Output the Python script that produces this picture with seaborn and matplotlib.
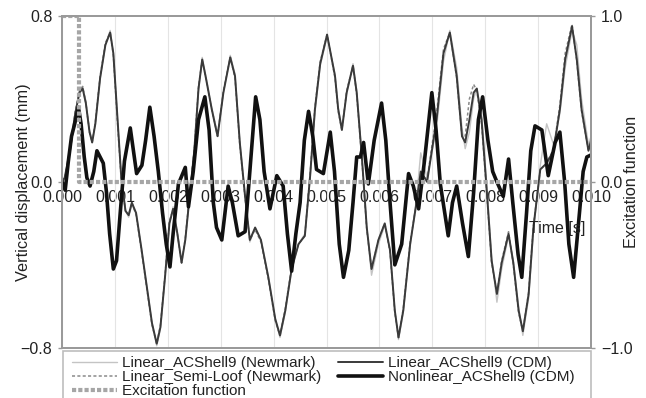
import numpy as np
import pandas as pd
import matplotlib
matplotlib.use('Agg')
import matplotlib.pyplot as plt
import seaborn as sns
from matplotlib.patches import Rectangle

sns.set_theme(style='white')
plt.rcParams['font.family'] = ['Liberation Sans', 'DejaVu Sans']

# time in ms for the linear solutions
t_lin = [0.00, 0.05, 0.15, 0.25, 0.33, 0.39, 0.45, 0.52, 0.57, 0.63, 0.72, 0.82, 0.91, 0.97,
         1.05, 1.12, 1.20, 1.26, 1.32, 1.40, 1.50, 1.60, 1.70, 1.79, 1.86, 1.95, 2.03, 2.10,
         2.18, 2.26, 2.33, 2.42, 2.50, 2.58, 2.65, 2.72, 2.83, 2.94, 3.05, 3.18, 3.27, 3.36,
         3.46, 3.55, 3.65, 3.76, 3.90, 4.03, 4.12, 4.22, 4.34, 4.47, 4.59, 4.69, 4.78, 4.88,
         5.01, 5.16, 5.22, 5.29, 5.38, 5.50, 5.57, 5.67, 5.76, 5.85, 5.98, 6.10, 6.20, 6.29,
         6.36, 6.45, 6.58, 6.70, 6.78, 6.90, 7.08, 7.21, 7.33, 7.46, 7.56, 7.62, 7.70, 7.78,
         7.84, 7.93, 8.03, 8.12, 8.22, 8.31, 8.44, 8.53, 8.63, 8.71, 8.82, 8.91, 9.04, 9.16,
         9.29, 9.41, 9.51, 9.64, 9.73, 9.82, 9.95, 10.00]

lin_newmark = [0.00, 0.02, 0.15, 0.33, 0.43, 0.46, 0.39, 0.25, 0.20, 0.28, 0.50, 0.66, 0.73, 0.62,
               0.30, 0.02, -0.14, -0.17, -0.11, -0.15, -0.32, -0.50, -0.68, -0.79, -0.71, -0.45, -0.20, -0.12,
               -0.24, -0.38, -0.28, -0.05, 0.14, 0.44, 0.60, 0.51, 0.36, 0.23, 0.43, 0.61, 0.52, 0.20,
               -0.06, -0.29, -0.22, -0.28, -0.46, -0.66, -0.75, -0.63, -0.42, -0.30, -0.25, 0.02, 0.33, 0.56,
               0.70, 0.52, 0.36, 0.26, 0.43, 0.57, 0.44, 0.12, -0.22, -0.45, -0.30, -0.21, -0.33, -0.62,
               -0.76, -0.63, -0.31, -0.08, 0.14, 0.02, 0.26, 0.58, 0.73, 0.55, 0.26, 0.16, 0.24, 0.40,
               0.45, 0.33, -0.02, -0.36, -0.58, -0.42, -0.26, -0.38, -0.60, -0.74, -0.56, -0.24, 0.08, 0.28,
               0.18, 0.33, 0.55, 0.73, 0.66, 0.40, 0.18, 0.22]

semi_loof = [0.00, 0.02, 0.16, 0.34, 0.44, 0.46, 0.38, 0.24, 0.19, 0.29, 0.51, 0.67, 0.72, 0.61,
             0.28, 0.01, -0.14, -0.16, -0.10, -0.16, -0.33, -0.51, -0.69, -0.78, -0.69, -0.44, -0.19, -0.13,
             -0.25, -0.39, -0.27, -0.04, 0.16, 0.46, 0.59, 0.50, 0.35, 0.22, 0.44, 0.60, 0.50, 0.18,
             -0.08, -0.28, -0.23, -0.29, -0.47, -0.67, -0.74, -0.61, -0.41, -0.30, -0.26, 0.04, 0.36, 0.58,
             0.71, 0.50, 0.34, 0.25, 0.44, 0.56, 0.42, 0.10, -0.23, -0.42, -0.28, -0.20, -0.34, -0.63,
             -0.75, -0.61, -0.29, -0.10, 0.04, 0.01, 0.33, 0.64, 0.72, 0.50, 0.22, 0.22, 0.40, 0.47,
             0.44, 0.28, -0.06, -0.39, -0.54, -0.38, -0.24, -0.40, -0.63, -0.72, -0.53, -0.21, 0.06, 0.09,
             0.16, 0.37, 0.62, 0.76, 0.58, 0.34, 0.15, 0.20]

lin_cdm = [0.00, 0.02, 0.15, 0.33, 0.43, 0.45, 0.38, 0.24, 0.19, 0.28, 0.50, 0.66, 0.72, 0.62,
           0.30, 0.02, -0.14, -0.16, -0.10, -0.15, -0.32, -0.50, -0.68, -0.78, -0.70, -0.45, -0.20, -0.13,
           -0.25, -0.39, -0.28, -0.05, 0.15, 0.45, 0.59, 0.50, 0.35, 0.22, 0.43, 0.60, 0.51, 0.19,
           -0.07, -0.28, -0.22, -0.28, -0.46, -0.66, -0.74, -0.62, -0.42, -0.30, -0.26, 0.03, 0.35, 0.57,
           0.71, 0.51, 0.35, 0.25, 0.43, 0.56, 0.43, 0.11, -0.22, -0.42, -0.28, -0.20, -0.33, -0.62,
           -0.75, -0.62, -0.30, -0.10, 0.05, 0.00, 0.30, 0.62, 0.72, 0.51, 0.22, 0.19, 0.30, 0.43,
           0.45, 0.30, -0.05, -0.38, -0.54, -0.39, -0.25, -0.39, -0.62, -0.72, -0.54, -0.22, 0.06, 0.09,
           0.15, 0.35, 0.59, 0.75, 0.59, 0.35, 0.15, 0.20]

# time in ms for the nonlinear solution
t_nl = [0.00, 0.06, 0.12, 0.18, 0.24, 0.31, 0.36, 0.42, 0.47, 0.53, 0.60, 0.66, 0.72, 0.78,
        0.84, 0.90, 0.97, 1.03, 1.10, 1.18, 1.29, 1.35, 1.41, 1.51, 1.58, 1.66, 1.74, 1.82,
        1.90, 1.97, 2.04, 2.10, 2.20, 2.33, 2.39, 2.48, 2.58, 2.70, 2.78, 2.86, 2.92, 3.02,
        3.08, 3.14, 3.22, 3.33, 3.46, 3.55, 3.66, 3.74, 3.82, 3.93, 4.06, 4.18, 4.26, 4.34,
        4.42, 4.50, 4.58, 4.66, 4.74, 4.81, 4.94, 5.07, 5.15, 5.24, 5.32, 5.42, 5.50, 5.57,
        5.64, 5.70, 5.79, 5.90, 6.04, 6.12, 6.20, 6.29, 6.42, 6.55, 6.64, 6.74, 6.85, 6.99,
        7.07, 7.15, 7.30, 7.38, 7.46, 7.57, 7.68, 7.78, 7.87, 7.95, 8.05, 8.14, 8.22, 8.34,
        8.44, 8.52, 8.62, 8.69, 8.78, 8.86, 8.94, 9.07, 9.19, 9.32, 9.41, 9.50, 9.58, 9.67,
        9.78, 9.85, 9.92, 10.00]

nonlin_cdm = [0.00, -0.04, 0.10, 0.22, 0.28, 0.36, 0.28, 0.12, 0.02, -0.02, 0.05, 0.15, 0.12, 0.09,
              -0.05, -0.25, -0.42, -0.38, -0.15, 0.10, 0.26, 0.15, 0.04, 0.08, 0.20, 0.36, 0.22, 0.05,
              -0.15, -0.30, -0.41, -0.25, -0.01, 0.07, -0.12, 0.05, 0.30, 0.41, 0.25, -0.10, -0.22, -0.28,
              -0.15, -0.02, -0.10, -0.26, -0.24, 0.05, 0.41, 0.30, 0.05, -0.13, 0.03, -0.02, -0.25, -0.43,
              -0.25, -0.10, 0.20, 0.34, 0.22, 0.06, 0.04, 0.24, 0.05, -0.30, -0.46, -0.33, -0.10, 0.12,
              0.12, 0.19, -0.01, 0.20, 0.38, 0.20, -0.10, -0.40, -0.30, 0.04, -0.02, -0.13, 0.10, 0.43,
              0.25, -0.01, -0.26, -0.10, -0.02, -0.20, -0.36, -0.05, 0.30, 0.41, 0.20, 0.05, 0.00, -0.07,
              0.11, -0.10, -0.35, -0.46, -0.15, 0.15, 0.27, 0.25, 0.03, 0.19, 0.24, 0.00, -0.30, -0.46,
              -0.15, 0.05, 0.12, 0.13]

t_exc = [0.00, 0.32, 0.32, 10.00]
excitation = [1.0, 1.0, 0.0, 0.0]

df_lin = pd.DataFrame({'time': np.array(t_lin) / 1000, 'newmark': lin_newmark,
                       'semiloof': semi_loof, 'cdm': lin_cdm})
df_nl = pd.DataFrame({'time': np.array(t_nl) / 1000, 'nonlin': nonlin_cdm})
df_exc = pd.DataFrame({'time': np.array(t_exc) / 1000, 'exc': excitation})

fig = plt.figure(figsize=(6.46, 3.98), dpi=100)
ax = fig.add_axes([0.096, 0.126, 0.819, 0.834])
ax2 = ax.twinx()

sns.lineplot(data=df_lin, x='time', y='newmark', ax=ax, color='#c4c4c4', linewidth=1.0,
             estimator=None, sort=False, label='Linear_ACShell9 (Newmark)')
sns.lineplot(data=df_lin, x='time', y='semiloof', ax=ax, color='#8a8a8a', linewidth=1.1,
             linestyle=(0, (2, 1.5)), estimator=None, sort=False, label='Linear_Semi-Loof (Newmark)')
sns.lineplot(data=df_lin, x='time', y='cdm', ax=ax, color='#3a3a3a', linewidth=1.4,
             estimator=None, sort=False, label='Linear_ACShell9 (CDM)')
sns.lineplot(data=df_nl, x='time', y='nonlin', ax=ax, color='#111111', linewidth=2.6,
             estimator=None, sort=False, label='Nonlinear_ACShell9 (CDM)')
sns.lineplot(data=df_exc, x='time', y='exc', ax=ax2, color='#a6a6a6', linewidth=3.0,
             linestyle=(0, (1, 0.5)), estimator=None, sort=False, label='Excitation function')

for a in (ax, ax2):
    if a.get_legend() is not None:
        a.get_legend().remove()

ax.set_xlim(0, 0.010)
ax.set_ylim(-0.8, 0.8)
ax2.set_ylim(-1.0, 1.0)

xt = np.arange(0, 0.0105, 0.001)
ax.set_xticks(xt)
ax.set_xticklabels([])
ax.tick_params(axis='x', length=0)
ax.grid(axis='x', color='#e4e4e4', linewidth=0.8)
ax.grid(axis='y', visible=False)
ax.set_xlabel('')
ax.set_ylabel('')
ax2.set_ylabel('')

ax.set_yticks([-0.8, 0.0, 0.8])
ax.set_yticklabels(['\u22120.8', '0.0', '0.8'])
ax2.set_yticks([-1.0, 0.0, 1.0])
ax2.set_yticklabels(['\u22121.0', '0.0', '1.0'])
ax.tick_params(axis='y', left=True, length=3, width=1, color='#999999', pad=4,
               labelsize=11.5, labelcolor='#222222')
ax2.tick_params(axis='y', right=True, length=3, width=1, color='#999999', pad=4,
                labelsize=11.5, labelcolor='#222222')

for a in (ax, ax2):
    for s in a.spines.values():
        s.set_color('#9a9a9a')
        s.set_linewidth(1.4)

sec = ax.secondary_xaxis(0.5)
sec.xaxis.tick_bottom()
sec.set_xticks(xt)
sec.set_xticklabels(['%.3f' % v for v in xt])
sec.tick_params(axis='x', bottom=True, top=False, labelbottom=True, labeltop=False,
                length=0, pad=6, labelsize=11.5, labelcolor='#222222')
for s in sec.spines.values():
    s.set_visible(False)

ax.text(0.99, 0.361, 'Time [s]', transform=ax.transAxes, ha='right', va='center',
        fontsize=11.5, color='#222222')
fig.text(23.5 / 646, 1 - 182 / 398, 'Vertical displacement (mm)', rotation=90,
         ha='center', va='center', fontsize=11.7, color='#222222')
fig.text(632 / 646, 1 - 182 / 398, 'Excitation function', rotation=90,
         ha='center', va='center', fontsize=11.7, color='#222222')

h1, l1 = ax.get_legend_handles_labels()
h2, l2 = ax2.get_legend_handles_labels()
lookup = dict(zip(l1 + l2, h1 + h2))
order = ['Linear_ACShell9 (Newmark)', 'Linear_Semi-Loof (Newmark)', 'Excitation function',
         'Linear_ACShell9 (CDM)', 'Nonlinear_ACShell9 (CDM)']
leg = fig.legend([lookup[k] for k in order], order, ncol=2, loc='upper left',
                 bbox_to_anchor=(72 / 646, 1 - 356 / 398), frameon=False, fontsize=11,
                 borderpad=0, borderaxespad=0, labelspacing=0.0, handlelength=2.95,
                 handletextpad=0.35, columnspacing=1.05)
for txt in leg.get_texts():
    txt.set_color('#222222')

fig.add_artist(Rectangle((63 / 646, -0.02), 528 / 646, 0.02 + (398 - 351) / 398,
                         transform=fig.transFigure, facecolor='none',
                         edgecolor='#bdbdbd', linewidth=1.2))

fig.savefig('out.png', dpi=100)
